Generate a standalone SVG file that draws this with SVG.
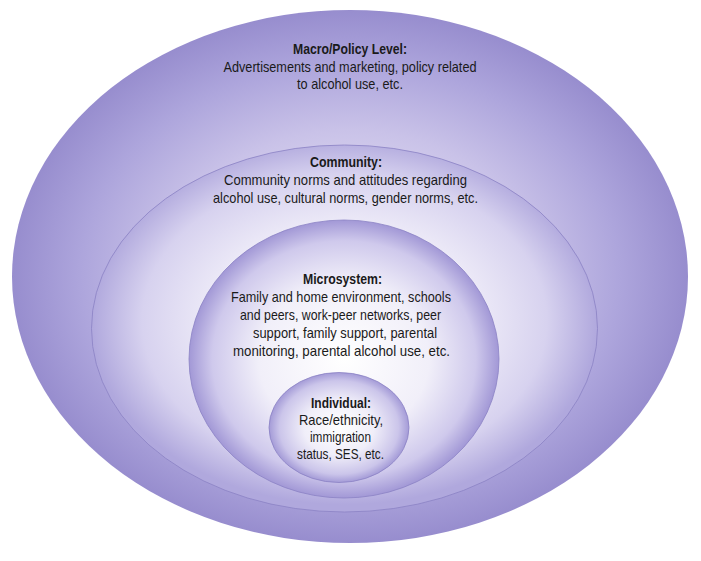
<svg xmlns="http://www.w3.org/2000/svg" width="701" height="561" viewBox="0 0 701 561">
<defs>
<radialGradient id="gOuter" cx="0.5" cy="0.5" r="0.5">
<stop offset="0" stop-color="#f4f2fb"/>
<stop offset="0.55" stop-color="#c9c2e8"/>
<stop offset="0.8" stop-color="#ada5dc"/>
<stop offset="1" stop-color="#978dce"/>
</radialGradient>
<radialGradient id="gComm" cx="0.5" cy="0.48" r="0.5">
<stop offset="0" stop-color="#ffffff"/>
<stop offset="0.45" stop-color="#f3f1fa"/>
<stop offset="0.8" stop-color="#d7d2ef"/>
<stop offset="1" stop-color="#b0a8dd"/>
</radialGradient>
<radialGradient id="gMicro" cx="0.5" cy="0.5" r="0.5">
<stop offset="0" stop-color="#ffffff"/>
<stop offset="0.55" stop-color="#f1eff9"/>
<stop offset="0.85" stop-color="#cfc9ec"/>
<stop offset="1" stop-color="#a298d6"/>
</radialGradient>
<radialGradient id="gInd" cx="0.5" cy="0.5" r="0.5">
<stop offset="0" stop-color="#ffffff"/>
<stop offset="0.5" stop-color="#f0eef9"/>
<stop offset="0.85" stop-color="#cbc5ea"/>
<stop offset="1" stop-color="#a49bd7"/>
</radialGradient>
</defs>
<style>
.ring{stroke:#8a82c4;stroke-width:0.8}
.h{font-family:"Liberation Sans",Arial,sans-serif;font-size:15px;font-weight:bold;fill:#1a1a1a;text-anchor:middle}
.t{font-family:"Liberation Sans",Arial,sans-serif;font-size:15px;fill:#1a1a1a;text-anchor:middle}
</style>
<rect width="701" height="561" fill="#ffffff"/>
<g id="macro">
<ellipse cx="350" cy="276.5" rx="338" ry="266.5" fill="url(#gOuter)"/>
<text class="h" x="350" y="54" textLength="114" lengthAdjust="spacingAndGlyphs">Macro/Policy Level:</text>
<text class="t" x="350" y="72" textLength="253" lengthAdjust="spacingAndGlyphs">Advertisements and marketing, policy related</text>
<text class="t" x="350" y="89" textLength="106" lengthAdjust="spacingAndGlyphs">to alcohol use, etc.</text>
</g>
<g id="community">
<ellipse class="ring" cx="344.5" cy="328.5" rx="253" ry="183.5" fill="url(#gComm)"/>
<text class="h" x="346" y="167" textLength="72" lengthAdjust="spacingAndGlyphs">Community:</text>
<text class="t" x="345.5" y="185" textLength="243" lengthAdjust="spacingAndGlyphs">Community norms and attitudes regarding</text>
<text class="t" x="345.5" y="203" textLength="265" lengthAdjust="spacingAndGlyphs">alcohol use, cultural norms, gender norms, etc.</text>
</g>
<g id="microsystem">
<ellipse class="ring" cx="344" cy="359" rx="155" ry="139" fill="url(#gMicro)"/>
<text class="h" x="342.5" y="284" textLength="79" lengthAdjust="spacingAndGlyphs">Microsystem:</text>
<text class="t" x="341" y="302" textLength="220" lengthAdjust="spacingAndGlyphs">Family and home environment, schools</text>
<text class="t" x="340.5" y="320" textLength="201" lengthAdjust="spacingAndGlyphs">and peers, work-peer networks, peer</text>
<text class="t" x="345" y="338" textLength="184" lengthAdjust="spacingAndGlyphs">support, family support, parental</text>
<text class="t" x="341.5" y="356" textLength="217" lengthAdjust="spacingAndGlyphs">monitoring, parental alcohol use, etc.</text>
</g>
<g id="individual">
<ellipse class="ring" cx="339" cy="427.5" rx="70" ry="55" fill="url(#gInd)"/>
<text class="h" x="341" y="408" textLength="60" lengthAdjust="spacingAndGlyphs">Individual:</text>
<text class="t" x="341" y="425" textLength="84" lengthAdjust="spacingAndGlyphs">Race/ethnicity,</text>
<text class="t" x="340.5" y="442" textLength="61" lengthAdjust="spacingAndGlyphs">immigration</text>
<text class="t" x="340.5" y="459" textLength="87" lengthAdjust="spacingAndGlyphs">status, SES, etc.</text>
</g>
<g id="connectors"/>
</svg>
